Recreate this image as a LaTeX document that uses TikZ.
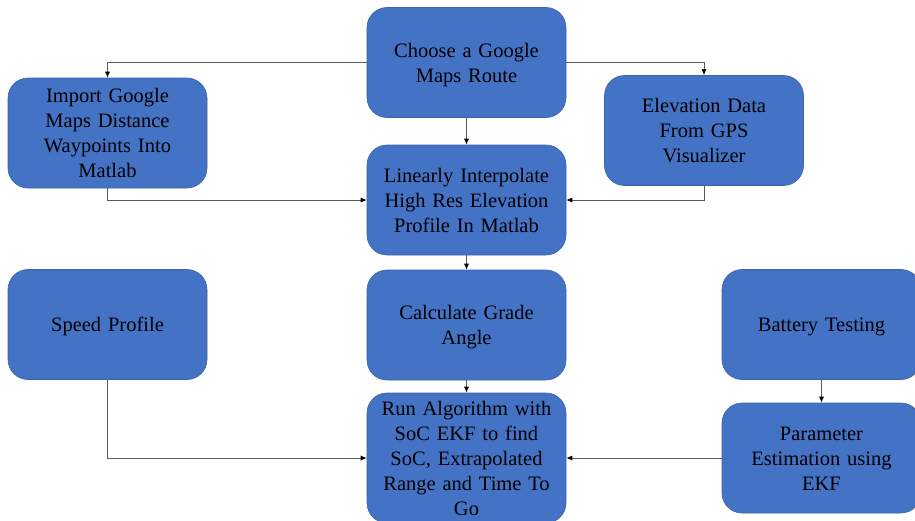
\documentclass[tikz,border=0pt]{standalone}
\usepackage{fontspec}
\setmainfont{Liberation Serif}
\usepackage{xcolor}
\usetikzlibrary{arrows.meta}
\definecolor{boxblue}{HTML}{4472C4}
\definecolor{boxedge}{HTML}{3A62A8}
\definecolor{linkgray}{HTML}{5A5A5A}
\newcommand\linestrut{\rule[-5pt]{0pt}{24.5pt}}
\begin{document}
\begin{tikzpicture}[x=1pt,y=-1pt]
        \tikzset{box style/.style = {draw=boxedge, line width=0.6pt, fill=boxblue, rounded corners=20pt,
                minimum width=199pt, minimum height=110pt, text width=190pt, align=center, inner sep=0pt,
                font=\fontsize{20.5}{25}\selectfont,
                execute at begin node=\linestrut, execute at end node=\linestrut}}
        \tikzset{link style/.style = {draw=linkgray, line width=0.8pt, -{Latex[length=6pt,width=5pt,color=black]}}}
        \clip (0,0) rectangle (915,520);
        \node[box style] (choose) at (466.5,62.5) {Choose a Google\\Maps Route};
        \node[box style] (import) at (107.5,133) {Import Google\\Maps Distance\\Waypoints Into\\Matlab};
        \node[box style] (elev) at (704,130.5) {Elevation Data\\From GPS\\Visualizer};
        \node[box style] (linear) at (466.5,200) {Linearly Interpolate\\High Res Elevation\\Profile In Matlab};
        \node[box style] (speed) at (107.5,324.5) {Speed Profile};
        \node[box style] (calc) at (466.5,325) {Calculate Grade\\Angle};
        \node[box style] (battery) at (821.5,324.5) {Battery Testing};
        \node[box style, minimum height=130pt] (run) at (466.5,458) {Run Algorithm with\\SoC EKF to find\\SoC, Extrapolated\\Range and Time To\\Go};
        \node[box style] (param) at (821.5,458) {Parameter\\Estimation using\\EKF};
        \draw[link style] (choose.west) -| (import.north);
        \draw[link style] (choose.east) -| (elev.north);
        \draw[link style] (choose) -- (linear);
        \draw[link style] (import.south) |- (linear.west);
        \draw[link style] (elev.south) |- (linear.east);
        \draw[link style] (linear) -- (calc);
        \draw[link style] (calc) -- (run);
        \draw[link style] (speed.south) |- (run.west);
        \draw[link style] (battery) -- (param);
        \draw[link style] (param.west) -- (run.east);
    \end{tikzpicture}
\end{document}
